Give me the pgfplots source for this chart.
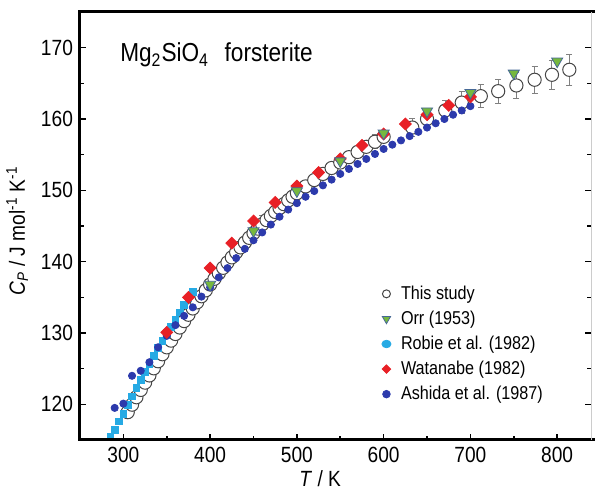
\documentclass[border=0pt]{standalone}
\usepackage{fontspec}
\setmainfont{Liberation Sans}[FakeStretch=0.87]
\usepackage{pgfplots}
\pgfplotsset{compat=1.18}
\definecolor{cpred}{RGB}{232,32,38}
\definecolor{cpblue}{RGB}{44,58,172}
\definecolor{cplight}{RGB}{38,170,228}
\definecolor{cpgreen}{RGB}{118,184,62}
\definecolor{cpedge}{RGB}{70,104,150}
\definecolor{cpgray}{RGB}{70,70,70}
\pgfplotsset{
  dotlegend/.style={legend image code/.code={\draw[##1] plot coordinates {(0cm,0cm)};}},
}
\begin{document}
\begin{tikzpicture}
\useasboundingbox (-40pt,-25.5pt) rectangle (257.5pt,220pt);
\begin{axis}[
  at={(0,0)}, anchor=south west,
  scale only axis, width=255.5pt, height=214pt,
  xmin=250, xmax=839, ymin=115, ymax=175,
  xtick={300,400,...,800}, ytick={120,130,...,170},
  minor x tick num=1, minor y tick num=1,
  xtick pos=bottom, ytick pos=both,
  tick align=inside,
  major tick length=3pt, minor tick length=2pt,
  tick style={black, line width=0.8pt},
  axis line style={draw=none},
  clip mode=individual,
  /pgf/number format/assume math mode=true,
  tick label style={font=\fontsize{11}{12}\selectfont},
  label style={font=\fontsize{11}{13}\selectfont},
  xlabel={\textit{T} / K},
  ylabel={\textit{C}\textsubscript{\textit{P}} / J mol\textsuperscript{-1} K\textsuperscript{-1}},
  xlabel style={at={(axis description cs:0.47,0)}, anchor=north, yshift=-11.5pt},
  ylabel style={at={(axis description cs:-0.123,0.488)}, anchor=center},
  legend cell align=left,
  legend style={at={(0.59,0.371)}, anchor=north west, draw=none, fill=none,
    font=\fontsize{9.3}{10}\selectfont, inner sep=0pt, row sep=0.3pt,
    /tikz/every odd column/.append style={column sep=3pt}},
]
%% legend entries
\addlegendimage{only marks, mark=*, mark size=2pt,
  mark options={fill=white, draw=cpgray, line width=0.5pt}, dotlegend}
\addlegendentry{This study}
\addlegendimage{only marks, mark=triangle*, mark size=2.4pt,
  mark options={rotate=180, fill=cpgreen, draw=cpedge, line width=0.4pt}, dotlegend}
\addlegendentry{Orr (1953)}
\addlegendimage{only marks, mark=*, mark size=1.9pt,
  mark options={draw=cplight, fill=cplight, xscale=1.2}, dotlegend}
\addlegendentry{Robie et al. (1982)}
\addlegendimage{only marks, mark=square*, mark size=1.5pt,
  mark options={draw=cpred, fill=cpred, rotate=45}, dotlegend}
\addlegendentry{Watanabe (1982)}
\addlegendimage{only marks, mark=*, mark size=1.9pt,
  mark options={draw=cpblue, fill=cpblue}, dotlegend}
\addlegendentry{Ashida et al. (1987)}

%% error bars of this study
\addplot[draw=none, mark=none, forget plot,
  error bars/.cd, y dir=both, y explicit,
  error bar style={draw=gray, line width=0.5pt},
  error mark options={rotate=90, draw=gray, line width=0.5pt, mark size=1.5pt}]
  table[x=T, y=C, y error=E] {
T C E
460 145.24 1.3
590 156.81 1.0
633 158.8 1.2
650 160.0 1.3
671 161.2 1.4
690 162.3 1.5
712 163.2 1.6
732 163.9 1.7
753 164.7 1.8
774 165.5 1.9
794 166.2 2.0
814 166.9 2.2
};

%% this study
\addplot[only marks, mark=*, mark size=3.3pt, forget plot,
  mark options={fill=white, draw=cpgray, line width=0.5pt}]
  table[x=T, y=C] {
T C
305 118.90
310 119.95
315 120.99
320 122.02
325 123.04
330 124.05
335 125.05
340 126.04
345 127.02
350 127.99
355 128.93
360 129.86
365 130.77
370 131.67
375 132.56
380 133.44
385 134.30
390 135.15
395 135.98
400 136.80
405 137.60
410 138.38
415 139.14
420 139.88
425 140.60
430 141.31
435 142.00
440 142.68
445 143.34
450 144.00
455 144.63
460 145.24
465 145.83
470 146.41
475 146.97
480 147.52
485 148.06
490 148.59
495 149.10
500 149.60
510 150.55
520 151.44
530 152.30
540 153.13
550 153.90
560 154.65
570 155.38
580 156.10
590 156.81
600 157.50
633 158.8
650 160.0
671 161.2
690 162.3
712 163.2
732 163.9
753 164.7
774 165.5
794 166.2
814 166.9
};

%% Robie et al. (1982)
\addplot[only marks, mark=square*, mark size=1.7pt, forget plot,
  mark options={draw=cplight, fill=cplight}]
  table[x=T, y=C] {
T C
285 115.5
290 116.4
295 117.6
300 118.7
305 119.9
310 121.1
315 122.3
320 123.4
325 124.5
330 125.7
335 126.8
340 127.9
345 128.9
350 130.0
355 130.9
360 131.9
365 132.9
370 133.9
375 134.9
380 135.8
};

%% Ashida et al. (1987)
\addplot[only marks, mark=*, mark size=1.8pt, forget plot,
  mark options={draw=cpblue, fill=cpblue}]
  table[x=T, y=C] {
T C
290 119.5
300 120.1
310 124.0
320 124.7
330 125.9
340 128.0
350 129.6
360 131.1
370 132.4
380 133.6
390 135.1
400 136.4
410 137.8
420 139.1
430 140.5
440 141.8
450 143.0
460 144.1
470 145.2
480 146.3
490 147.3
500 148.2
510 149.1
520 149.9
530 150.7
540 151.5
550 152.3
560 153.0
570 153.7
580 154.4
590 155.1
600 155.8
610 156.4
620 157.0
630 157.6
640 158.2
650 158.8
660 159.4
670 160.0
680 160.6
690 161.2
700 161.8
};

%% Watanabe (1982)
\addplot[only marks, mark=square*, mark size=2.1pt, forget plot,
  mark options={draw=cpred, fill=cpred, rotate=45}]
  table[x=T, y=C] {
T C
350 130.1
375 135.0
400 139.1
425 142.6
450 145.7
475 148.3
500 150.6
525 152.5
550 154.4
575 156.3
600 157.9
625 159.3
650 160.6
675 161.9
700 163.1
};

%% Orr (1953)
\addplot[only marks, mark=triangle*, mark size=3.2pt, forget plot,
  mark options={rotate=180, fill=cpgreen, draw=cpedge, line width=0.4pt}]
  table[x=T, y=C] {
T C
400 136.8
450 144.3
500 149.9
550 154.1
600 158.0
650 161.1
700 163.7
750 166.4
800 168.1
};

%% frame
\draw[line width=1.5pt] (axis cs:850,175) -- (axis cs:250,175)
  -- (axis cs:250,115) -- (axis cs:850,115);
\draw[gray!40, line width=0.4pt] (axis cs:839,115) -- (axis cs:839,175);

\node[anchor=base west, inner sep=0pt, font=\fontsize{13}{15}\selectfont]
  at (axis cs:296,168) {Mg\textsubscript{2}SiO\textsubscript{4}\hspace{0.6em}forsterite};
\end{axis}
\end{tikzpicture}
\end{document}
